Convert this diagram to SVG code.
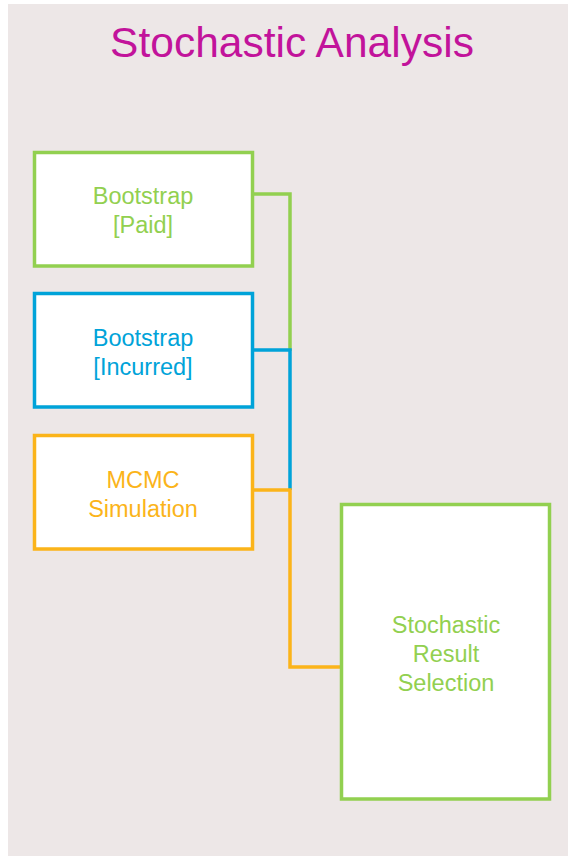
<svg xmlns="http://www.w3.org/2000/svg" width="568" height="856" viewBox="0 0 568 856">
<style>
.t{font-family:"Liberation Sans",Arial,sans-serif;font-size:23.5px;text-anchor:middle}
.box{fill:#ffffff;stroke-width:3.5}
.ln{fill:none;stroke-width:3.5}
.g{stroke:#92d050}.gf{fill:#92d050}
.b{stroke:#00a3d9}.bf{fill:#00a3d9}
.o{stroke:#fbb41a}.of{fill:#fbb41a}
</style>
<rect x="8" y="4" width="560" height="852" fill="#ede7e7"/>
<text x="292" y="57" font-family="Liberation Sans,Arial,sans-serif" font-size="42.5" fill="#c2139b" text-anchor="middle">Stochastic Analysis</text>
<g id="connectors">
<polyline class="ln g" points="253,194 290,194 290,351"/>
<polyline class="ln b" points="253,350 290,350 290,490"/>
<polyline class="ln o" points="253,490 290,490 290,667 341,667"/>
</g>
<g id="bootstrap-paid">
<rect class="box g" x="34.5" y="152.5" width="218" height="113.5"/>
<text class="t gf" x="143" y="204">Bootstrap</text>
<text class="t gf" x="143" y="233">[Paid]</text>
</g>
<g id="bootstrap-incurred">
<rect class="box b" x="34.5" y="293.5" width="218" height="113.5"/>
<text class="t bf" x="143" y="346">Bootstrap</text>
<text class="t bf" x="143" y="375">[Incurred]</text>
</g>
<g id="mcmc">
<rect class="box o" x="34.5" y="435.5" width="218" height="113.5"/>
<text class="t of" x="143" y="488">MCMC</text>
<text class="t of" x="143" y="517">Simulation</text>
</g>
<g id="result">
<rect class="box g" x="341.5" y="504.5" width="208" height="294.5"/>
<text class="t gf" x="446" y="633">Stochastic</text>
<text class="t gf" x="446" y="662">Result</text>
<text class="t gf" x="446" y="691">Selection</text>
</g>
</svg>
